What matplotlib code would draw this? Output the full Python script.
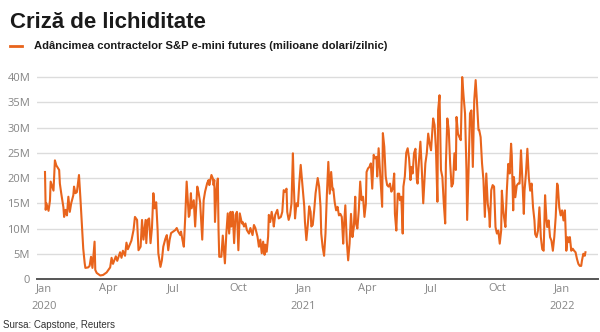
import pandas as pd
import matplotlib
matplotlib.use('Agg')
from matplotlib import pyplot as plt
from matplotlib.lines import Line2D

title = 'Criză de lichiditate'
series_name = 'Adâncimea contractelor S&P e-mini futures (milioane dolari/zilnic)'
source = 'Sursa: Capstone, Reuters'

# market depth, millions of dollars per day
dates_2020 = [
    '01-02', '01-03', '01-04', '01-07', '01-09', '01-10', '01-14', '01-16', '01-18', '01-22',
    '01-23', '01-25', '01-28', '01-29', '01-31', '02-02', '02-04', '02-06', '02-08', '02-11',
    '02-12', '02-14', '02-16', '02-19', '02-21', '02-23', '02-25', '02-27', '02-28', '03-03',
    '03-05', '03-07', '03-09', '03-12', '03-13', '03-15', '03-20', '03-24', '03-29', '04-03',
    '04-05', '04-07', '04-11', '04-13', '04-17', '04-19', '04-21', '04-24', '04-26', '04-28',
    '05-01', '05-03', '05-06', '05-08', '05-11', '05-13', '05-16', '05-18', '05-20', '05-23',
    '05-24', '05-26', '05-28', '05-30', '06-01', '06-03', '06-05', '06-07', '06-09', '06-10',
    '06-13', '06-15', '06-17', '06-20', '06-22', '06-24', '06-26', '06-28', '07-01', '07-04',
    '07-06', '07-08', '07-11', '07-12', '07-14', '07-16', '07-18', '07-20', '07-23', '07-24',
    '07-26', '07-27', '07-30', '08-01', '08-04', '08-06', '08-08', '08-11', '08-13', '08-15',
    '08-18', '08-20', '08-21', '08-24', '08-26', '08-27', '08-28', '08-29', '08-31', '09-02',
    '09-03', '09-04', '09-07', '09-09', '09-11', '09-12', '09-14', '09-16', '09-18', '09-20',
    '09-21', '09-23', '09-25', '09-27', '09-29', '10-01', '10-03', '10-06', '10-07', '10-09',
    '10-11', '10-13', '10-16', '10-18', '10-21', '10-23', '10-25', '10-28', '10-30', '11-01',
    '11-03', '11-05', '11-07', '11-08', '11-10', '11-12', '11-13', '11-15', '11-17', '11-19',
    '11-20', '11-22', '11-25', '11-27', '11-30', '12-02', '12-04', '12-06', '12-08', '12-09',
    '12-11', '12-13', '12-15', '12-17', '12-18', '12-20', '12-22', '12-24', '12-26', '12-28',
    '12-30',
]
values_2020 = [
    21.2, 13.7, 15.0, 13.5, 15.5, 19.3, 17.5, 23.5, 22.5, 21.6,
    18.9, 16.9, 14.2, 12.3, 13.7, 12.6, 16.3, 13.3, 15.0, 16.6,
    18.3, 17.0, 17.2, 20.6, 16.0, 11.0, 6.0, 3.2, 2.2, 2.3,
    2.6, 4.4, 2.2, 7.4, 1.8, 1.2, 0.7, 0.8, 1.3, 2.3,
    4.2, 3.0, 4.5, 3.6, 5.3, 4.2, 5.6, 4.6, 7.2, 5.9,
    6.9, 7.6, 9.7, 12.3, 11.7, 5.7, 6.4, 11.7, 7.8, 11.7,
    7.1, 11.7, 12.0, 7.1, 10.1, 17.0, 14.0, 15.2, 9.7, 5.1,
    2.4, 3.7, 6.4, 8.0, 8.7, 5.7, 7.8, 9.1, 9.4, 9.7,
    10.1, 9.4, 8.7, 9.4, 7.8, 6.4, 12.3, 19.3, 12.3, 12.6,
    17.0, 14.0, 15.6, 10.4, 18.3, 17.0, 15.2, 7.8, 15.6, 17.3,
    19.0, 19.6, 18.6, 20.6, 19.9, 18.6, 19.6, 11.3, 17.6, 19.9,
    9.7, 4.4, 4.4, 8.6, 5.0, 3.1, 9.0, 13.0, 9.0, 13.3,
    10.4, 13.3, 7.1, 12.7, 13.3, 5.7, 13.0, 11.0, 11.3, 10.4,
    11.0, 9.7, 9.0, 10.1, 8.7, 10.7, 10.1, 8.4, 6.4, 7.8,
    5.1, 7.4, 4.8, 6.8, 5.4, 8.4, 12.7, 11.3, 13.3, 11.7,
    10.4, 12.7, 13.7, 12.0, 12.3, 13.3, 17.6, 17.3, 17.9, 13.3,
    11.7, 12.7, 15.0, 24.9, 19.6, 12.0, 15.0, 14.4, 19.0, 22.6,
    19.3,
]
dates_2021 = [
    '01-02', '01-03', '01-05', '01-07', '01-09', '01-11', '01-12', '01-14', '01-16', '01-18',
    '01-21', '01-23', '01-25', '01-26', '01-28', '01-30', '02-01', '02-03', '02-05', '02-07',
    '02-09', '02-11', '02-12', '02-14', '02-16', '02-18', '02-20', '02-22', '02-24', '02-26',
    '02-27', '03-01', '03-03', '03-05', '03-07', '03-09', '03-11', '03-13', '03-15', '03-16',
    '03-18', '03-20', '03-22', '03-24', '03-26', '03-28', '03-30', '03-31', '04-02', '04-04',
    '04-06', '04-08', '04-10', '04-12', '04-14', '04-15', '04-17', '04-19', '04-22', '04-23',
    '04-25', '04-27', '04-29', '05-01', '05-03', '05-05', '05-07', '05-09', '05-10', '05-12',
    '05-14', '05-16', '05-17', '05-19', '05-21', '05-22', '05-24', '05-26', '05-28', '05-30',
    '06-01', '06-02', '06-04', '06-06', '06-08', '06-10', '06-11', '06-13', '06-15', '06-17',
    '06-19', '06-20', '06-22', '06-24', '06-26', '06-28', '06-30', '07-02', '07-03', '07-05',
    '07-07', '07-09', '07-10', '07-12', '07-14', '07-16', '07-18', '07-20', '07-21', '07-23',
    '07-25', '07-27', '07-29', '07-31', '08-02', '08-04', '08-05', '08-07', '08-09', '08-11',
    '08-13', '08-15', '08-17', '08-19', '08-20', '08-22', '08-24', '08-26', '08-28', '08-30',
    '09-01', '09-03', '09-05', '09-06', '09-08', '09-10', '09-12', '09-14', '09-16', '09-18',
    '09-20', '09-21', '09-23', '09-25', '09-27', '09-29', '10-01', '10-03', '10-05', '10-07',
    '10-08', '10-10', '10-11', '10-13', '10-15', '10-17', '10-19', '10-21', '10-22', '10-24',
    '10-25', '10-27', '10-29', '10-31', '11-02', '11-04', '11-06', '11-08', '11-09', '11-11',
    '11-13', '11-15', '11-17', '11-19', '11-21', '11-23', '11-24', '11-26', '11-28', '11-30',
    '12-02', '12-04', '12-06', '12-08', '12-10', '12-11', '12-13', '12-15', '12-17', '12-19',
    '12-21', '12-23', '12-25', '12-26', '12-28', '12-30',
]
values_2021 = [
    14.4, 11.3, 7.7, 10.7, 14.4, 13.3, 10.4, 10.7, 13.5, 17.0,
    20.0, 18.3, 14.3, 9.0, 6.3, 4.6, 9.0, 16.9, 23.2, 16.9,
    21.2, 17.6, 17.9, 15.2, 13.6, 14.3, 12.6, 12.9, 12.3, 7.0,
    10.3, 14.6, 7.6, 3.7, 7.0, 12.9, 8.3, 10.3, 16.3, 11.0,
    10.0, 13.6, 19.3, 15.6, 16.3, 12.3, 14.9, 21.2, 21.9, 22.2,
    22.9, 17.9, 24.6, 23.9, 24.2, 20.3, 25.9, 21.2, 14.3, 28.9,
    26.2, 20.3, 18.6, 18.3, 18.9, 17.3, 17.9, 20.9, 12.9, 9.6,
    16.9, 16.9, 15.6, 16.3, 9.0, 18.3, 20.3, 25.0, 25.9, 23.9,
    19.6, 22.2, 20.9, 24.9, 25.8, 19.6, 18.9, 23.5, 27.2, 21.6,
    15.0, 17.6, 22.9, 24.9, 28.8, 26.8, 25.5, 29.8, 31.8, 30.5,
    25.5, 15.3, 33.4, 36.4, 21.6, 20.2, 15.0, 11.0, 22.9, 31.8,
    29.5, 22.9, 18.3, 18.9, 24.9, 21.6, 32.1, 28.8, 28.1, 27.5,
    40.0, 36.1, 32.8, 21.6, 11.7, 21.6, 32.8, 33.4, 22.2, 35.4,
    39.4, 34.7, 29.5, 29.5, 28.1, 22.9, 19.6, 12.3, 20.9, 15.0,
    13.0, 10.3, 17.6, 18.6, 18.3, 10.3, 9.0, 9.6, 7.0, 9.6,
    17.5, 13.6, 12.3, 10.3, 17.5, 22.8, 20.9, 26.8, 24.5, 13.6,
    20.2, 16.2, 18.5, 18.9, 18.9, 25.5, 19.5, 12.9, 17.5, 20.9,
    25.8, 20.2, 17.5, 18.9, 14.2, 11.6, 8.9, 8.3, 9.6, 14.2,
    8.3, 5.9, 5.6, 16.6, 11.6, 10.3, 11.6, 8.3, 7.6, 5.6,
    8.3, 12.3, 18.9, 18.5, 14.2, 12.6,
]
dates_2022 = [
    '01-01', '01-03', '01-05', '01-07', '01-09', '01-11', '01-12', '01-14', '01-16', '01-18',
    '01-20', '01-22', '01-24', '01-26', '01-28', '01-29', '01-31', '02-02', '02-03',
]
values_2022 = [
    13.6, 11.6, 13.6, 5.6, 8.3, 7.3, 8.3, 5.6, 6.0, 5.6,
    5.3, 4.0, 3.0, 2.6, 2.6, 3.6, 5.0, 4.6, 5.3,
]

y_ticks = [0, 5, 10, 15, 20, 25, 30, 35, 40]
x_ticks = ['2020-01-01', '2020-04-01', '2020-07-01', '2020-10-01', '2021-01-01',
           '2021-04-01', '2021-07-01', '2021-10-01', '2022-01-01']
x_labels = ['Jan\n2020', 'Apr', 'Jul', 'Oct', 'Jan\n2021', 'Apr', 'Jul', 'Oct', 'Jan\n2022']

dates = pd.to_datetime(['2020-' + d for d in dates_2020] +
                       ['2021-' + d for d in dates_2021] +
                       ['2022-' + d for d in dates_2022])
values = values_2020 + values_2021 + values_2022

orange = '#e8641c'
grey = '#858585'

plt.rcParams['font.family'] = ['Liberation Sans', 'DejaVu Sans']

fig = plt.figure(figsize=(6, 3.32), dpi=100)
ax = fig.add_axes([0.062, 0.1596, 0.935, 0.6235])

ax.plot(dates, values, color=orange, lw=1.5, solid_joinstyle='round')

ax.set_ylim(0, 41)
ax.set_xlim(pd.Timestamp('2019-12-22'), pd.Timestamp('2022-02-21'))
ax.set_yticks(y_ticks)
ax.set_yticklabels(['0' if v == 0 else f'{v}M' for v in y_ticks],
                   family=['Open Sans', 'DejaVu Sans'], color=grey, fontsize=8)
ax.set_xticks(pd.to_datetime(x_ticks))
ax.set_xticklabels(x_labels, family=['Open Sans', 'DejaVu Sans'], color=grey,
                   fontsize=8, linespacing=1.9)
ax.tick_params(length=0, pad=5)
ax.tick_params(axis='x', pad=3)
ax.grid(axis='y', color='#dcdcdc', lw=1)
ax.set_axisbelow(True)
for s in ['top', 'right', 'left']:
    ax.spines[s].set_visible(False)
ax.spines['bottom'].set_color('#555555')
ax.spines['bottom'].set_linewidth(1.4)

fig.text(0.017, 0.915, title, fontsize=16, fontweight='bold', color='#1a1a1a')
fig.add_artist(Line2D([0.017, 0.037], [0.862, 0.862], color=orange, lw=2))
fig.text(0.057, 0.862, series_name, fontsize=8.1, fontweight='bold',
         color='#1a1a1a', va='center')
fig.text(0.005, 0.012, source, fontsize=7, color='#333333')

fig.savefig('out.png', dpi=100)
